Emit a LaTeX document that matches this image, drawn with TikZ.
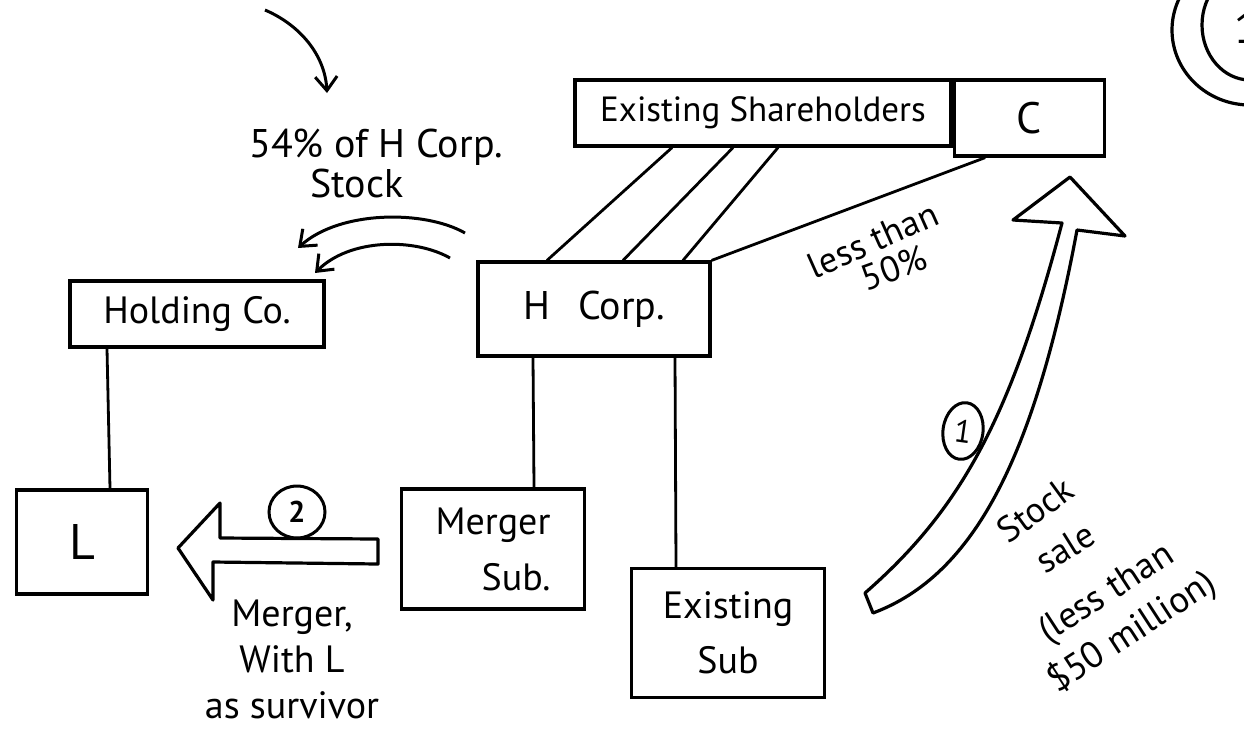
\documentclass[tikz,border=0pt]{standalone}
\usepackage{fontspec}
\setmainfont{PT Sans}
\usetikzlibrary{arrows.meta,calc,shapes.geometric}
\newcommand\fsz[2]{\fontsize{#1}{#2}\selectfont}
\begin{document}
\begin{tikzpicture}[x=1pt,y=-1pt,
  box/.style={draw, line width=3.2pt, inner sep=0pt, align=center},
  link/.style={line width=2.8pt},
  lbl/.style={inner sep=0pt, align=center},
  barb/.style={line width=3pt, -{Straight Barb[length=14pt,width=22pt,line width=3pt]}},
  hollow/.style={line width=3.2pt, line join=round},
  ring/.style={draw, ellipse, line width=3pt, inner sep=0pt}
]
\useasboundingbox (0,0) rectangle (1244,732);

% boxes
\node[box, minimum width=376pt, minimum height=66pt, font=\fsz{35}{40}] (es) at (763,113) {Existing Shareholders};
\node[box, minimum width=150pt, minimum height=76pt, font=\fsz{44}{48}, anchor=west] (c) at ([yshift=-5pt]es.east) {C};
\node[box, minimum width=254pt, minimum height=66pt, font=\fsz{38}{44}] (hold) at (197,314) {Holding Co.};
\node[box, minimum width=232pt, minimum height=94pt, font=\fsz{40}{44}] (hc) at (594,309) {H\hspace{28pt}Corp.};
\node[box, minimum width=131pt, minimum height=104pt, font=\fsz{50}{56}] (L) at (82,542) {L};
\node[box, minimum width=183pt, minimum height=120pt, font=\fsz{38}{56}, align=right] (ms) at (493,549) {Merger\\Sub.};
\node[box, minimum width=193pt, minimum height=129pt, font=\fsz{38}{55}] (esub) at (728,633) {Existing\\Sub};

% ownership lines
\draw[link] ([xshift=-90pt]hold.south) -- ([xshift=28pt]L.north);
\draw[link] ([xshift=-61pt]hc.south) -- ([xshift=41pt]ms.north);
\draw[link] ([xshift=81pt]hc.south) -- ([xshift=-52pt]esub.north);
\draw[link] ([xshift=-91pt]es.south) -- ([xshift=-47pt]hc.north);
\draw[link] ([xshift=-30pt]es.south) -- ([xshift=29pt]hc.north);
\draw[link] ([xshift=15pt]es.south) -- ([xshift=89pt]hc.north);
\draw[link] ([xshift=-44pt]c.south) -- (hc.north east);

% labels
\node[lbl, font=\fsz{40}{44}, anchor=base] (pct) at (376,157) {54\% of H Corp.};
\node[lbl, font=\fsz{40}{44}, anchor=base] (stk) at (357,197) {Stock};
\node[lbl, font=\fsz{36}{40}, rotate=24] (lt) at (873,240) {less than};
\node[lbl, font=\fsz{36}{40}, rotate=20] (fifty) at (894,268) {50\%};
\node[lbl, font=\fsz{38}{46}] (mtxt) at (292,659) {Merger,\\With L\\as survivor};
\node[lbl, font=\fsz{36}{40}, rotate=36] (s1) at (1035,510) {Stock};
\node[lbl, font=\fsz{36}{40}, rotate=32] (s2) at (1065,548) {sale};
\node[lbl, font=\fsz{37}{47}, rotate=33] (s3) at (1120,614) {(less than\\\$50 million)};

% top arrow
\coordinate (ta) at (265,10);
\coordinate (tb) at (327,93);
\draw[barb] (ta) .. controls (300,25) and (325,55) .. (tb);

% stock transfer arrows
\coordinate (a1s) at (465,233);
\coordinate (a1e) at (298,248);
\coordinate (a2s) at (450,258);
\coordinate (a2e) at (315,273);
\draw[barb] (a1s) .. controls (425,210) and (340,210) .. (a1e);
\draw[barb] (a2s) .. controls (415,238) and (350,238) .. (a2e);

% hollow arrow 2
\draw[hollow] (378,539) -- (220,538) -- (220,503) -- (178,548) -- (213,600) -- (213,562) -- (378,564) -- cycle;
\node[ring, minimum width=56pt, minimum height=52pt, font=\fsz{30}{32}\bfseries] (two) at (297,512) {2};

% hollow curved arrow 1
\draw[hollow] (865,593) .. controls (960,510) and (1010,420) .. (1062,223) -- (1013,220) -- (1070,177) -- (1125,236) -- (1077,230) .. controls (1035,455) and (975,575) .. (873,613) -- cycle;
\node[ring, minimum width=40pt, minimum height=57pt, font=\fsz{32}{34}, rotate=-8] (one) at (963,431) {1};

% top-right partial circles
\draw[line width=3.2pt] (1250,30) ellipse [x radius=78pt, y radius=75pt];
\draw[line width=3.2pt] (1250,25) ellipse [x radius=48pt, y radius=55pt];
\node[lbl, font=\fsz{44}{48}] (corner) at (1246,28) {1};
\end{tikzpicture}
\end{document}
